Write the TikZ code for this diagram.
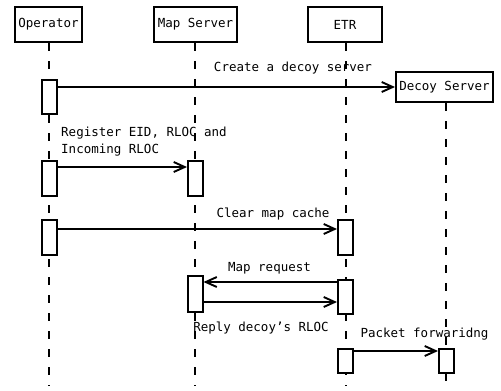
\documentclass[tikz,border=0pt]{standalone}
\usepackage{fontspec}
\setmainfont{DejaVu Sans Mono}
\usetikzlibrary{arrows.meta,calc}
\begin{document}
\begin{tikzpicture}[x=1pt,y=-1pt,
  font=\fontsize{12.5}{17}\selectfont,
  actor/.style={draw,line width=2pt,fill=white,minimum height=35pt,inner sep=0pt},
  act/.style={draw,line width=2pt,fill=white,minimum width=15pt,inner sep=0pt},
  life/.style={line width=2pt,dash pattern=on 8pt off 10pt},
  msg/.style={line width=1.9pt,-{Straight Barb[length=11pt,width=10pt,line width=1.9pt]}},
  lbl/.style={inner sep=0pt,anchor=center}]
\useasboundingbox (0,0) rectangle (501,391);
% participants
\node[actor,minimum width=67pt] (op) at (48.5,24.5) {Operator};
\node[actor,minimum width=83pt] (ms) at (195.5,24.5) {Map Server};
\node[actor,minimum width=74pt] (etr) at (345,24.5) {ETR};
\node[actor,minimum width=97pt,minimum height=30pt] (ds) at (444.5,87) {Decoy Server};
% lifeline ends
\coordinate (opE) at (49,386);
\coordinate (msE) at (195,386);
\coordinate (etrE) at (346,386);
\coordinate (dsE) at (446,386);
\draw[life] (op.south -| opE) -- (opE);
\draw[life] (ms.south -| msE) -- (msE);
\draw[life] (etr.south -| etrE) -- (etrE);
\draw[life] (ds.south -| dsE) -- (dsE);
% activations
\node[act,minimum height=34pt] (a1) at (49.5,97) {};
\node[act,minimum height=35pt] (a2) at (49.5,178.5) {};
\node[act,minimum height=35pt] (a3) at (49.5,237.5) {};
\node[act,minimum height=35pt] (m1) at (195.5,178.5) {};
\node[act,minimum height=36pt] (m2) at (195,294) {};
\node[act,minimum height=35pt] (e1) at (345.5,237.5) {};
\node[act,minimum height=34pt] (e2) at (345.5,297) {};
\node[act,minimum height=24pt] (e3) at (345.5,361) {};
\node[act,minimum height=24pt] (d1) at (446.5,361) {};
% messages
\draw[msg] (a1.north east) ++(0,8) coordinate (s1) -- (s1 -| ds.west);
\draw[msg] (a2.north east) ++(0,7) coordinate (s2) -- (s2 -| m1.west);
\draw[msg] (a3.north east) ++(0,10) coordinate (s3) -- (s3 -| e1.west);
\draw[msg] (e2.north west) ++(0,3) coordinate (s4) -- (s4 -| m2.east);
\draw[msg] (m2.north east) ++(0,27) coordinate (s5) -- (s5 -| e2.west);
\draw[msg] (e3.north east) ++(0,3) coordinate (s6) -- (s6 -| d1.west);
% labels
\node[lbl] (t1) at (293,68) {Create a decoy server};
\node[lbl,anchor=west] (t2a) at (61,133) {Register EID, RLOC and};
\node[lbl,anchor=west] (t2b) at (61,150) {Incoming RLOC};
\node[lbl] (t3) at (273,214) {Clear map cache};
\node[lbl] (t4) at (269.5,268) {Map request};
\node[lbl] (t5) at (261,328) {Reply decoy’s RLOC};
\node[lbl] (t6) at (424.5,334) {Packet forwaridng};
\end{tikzpicture}
\end{document}
